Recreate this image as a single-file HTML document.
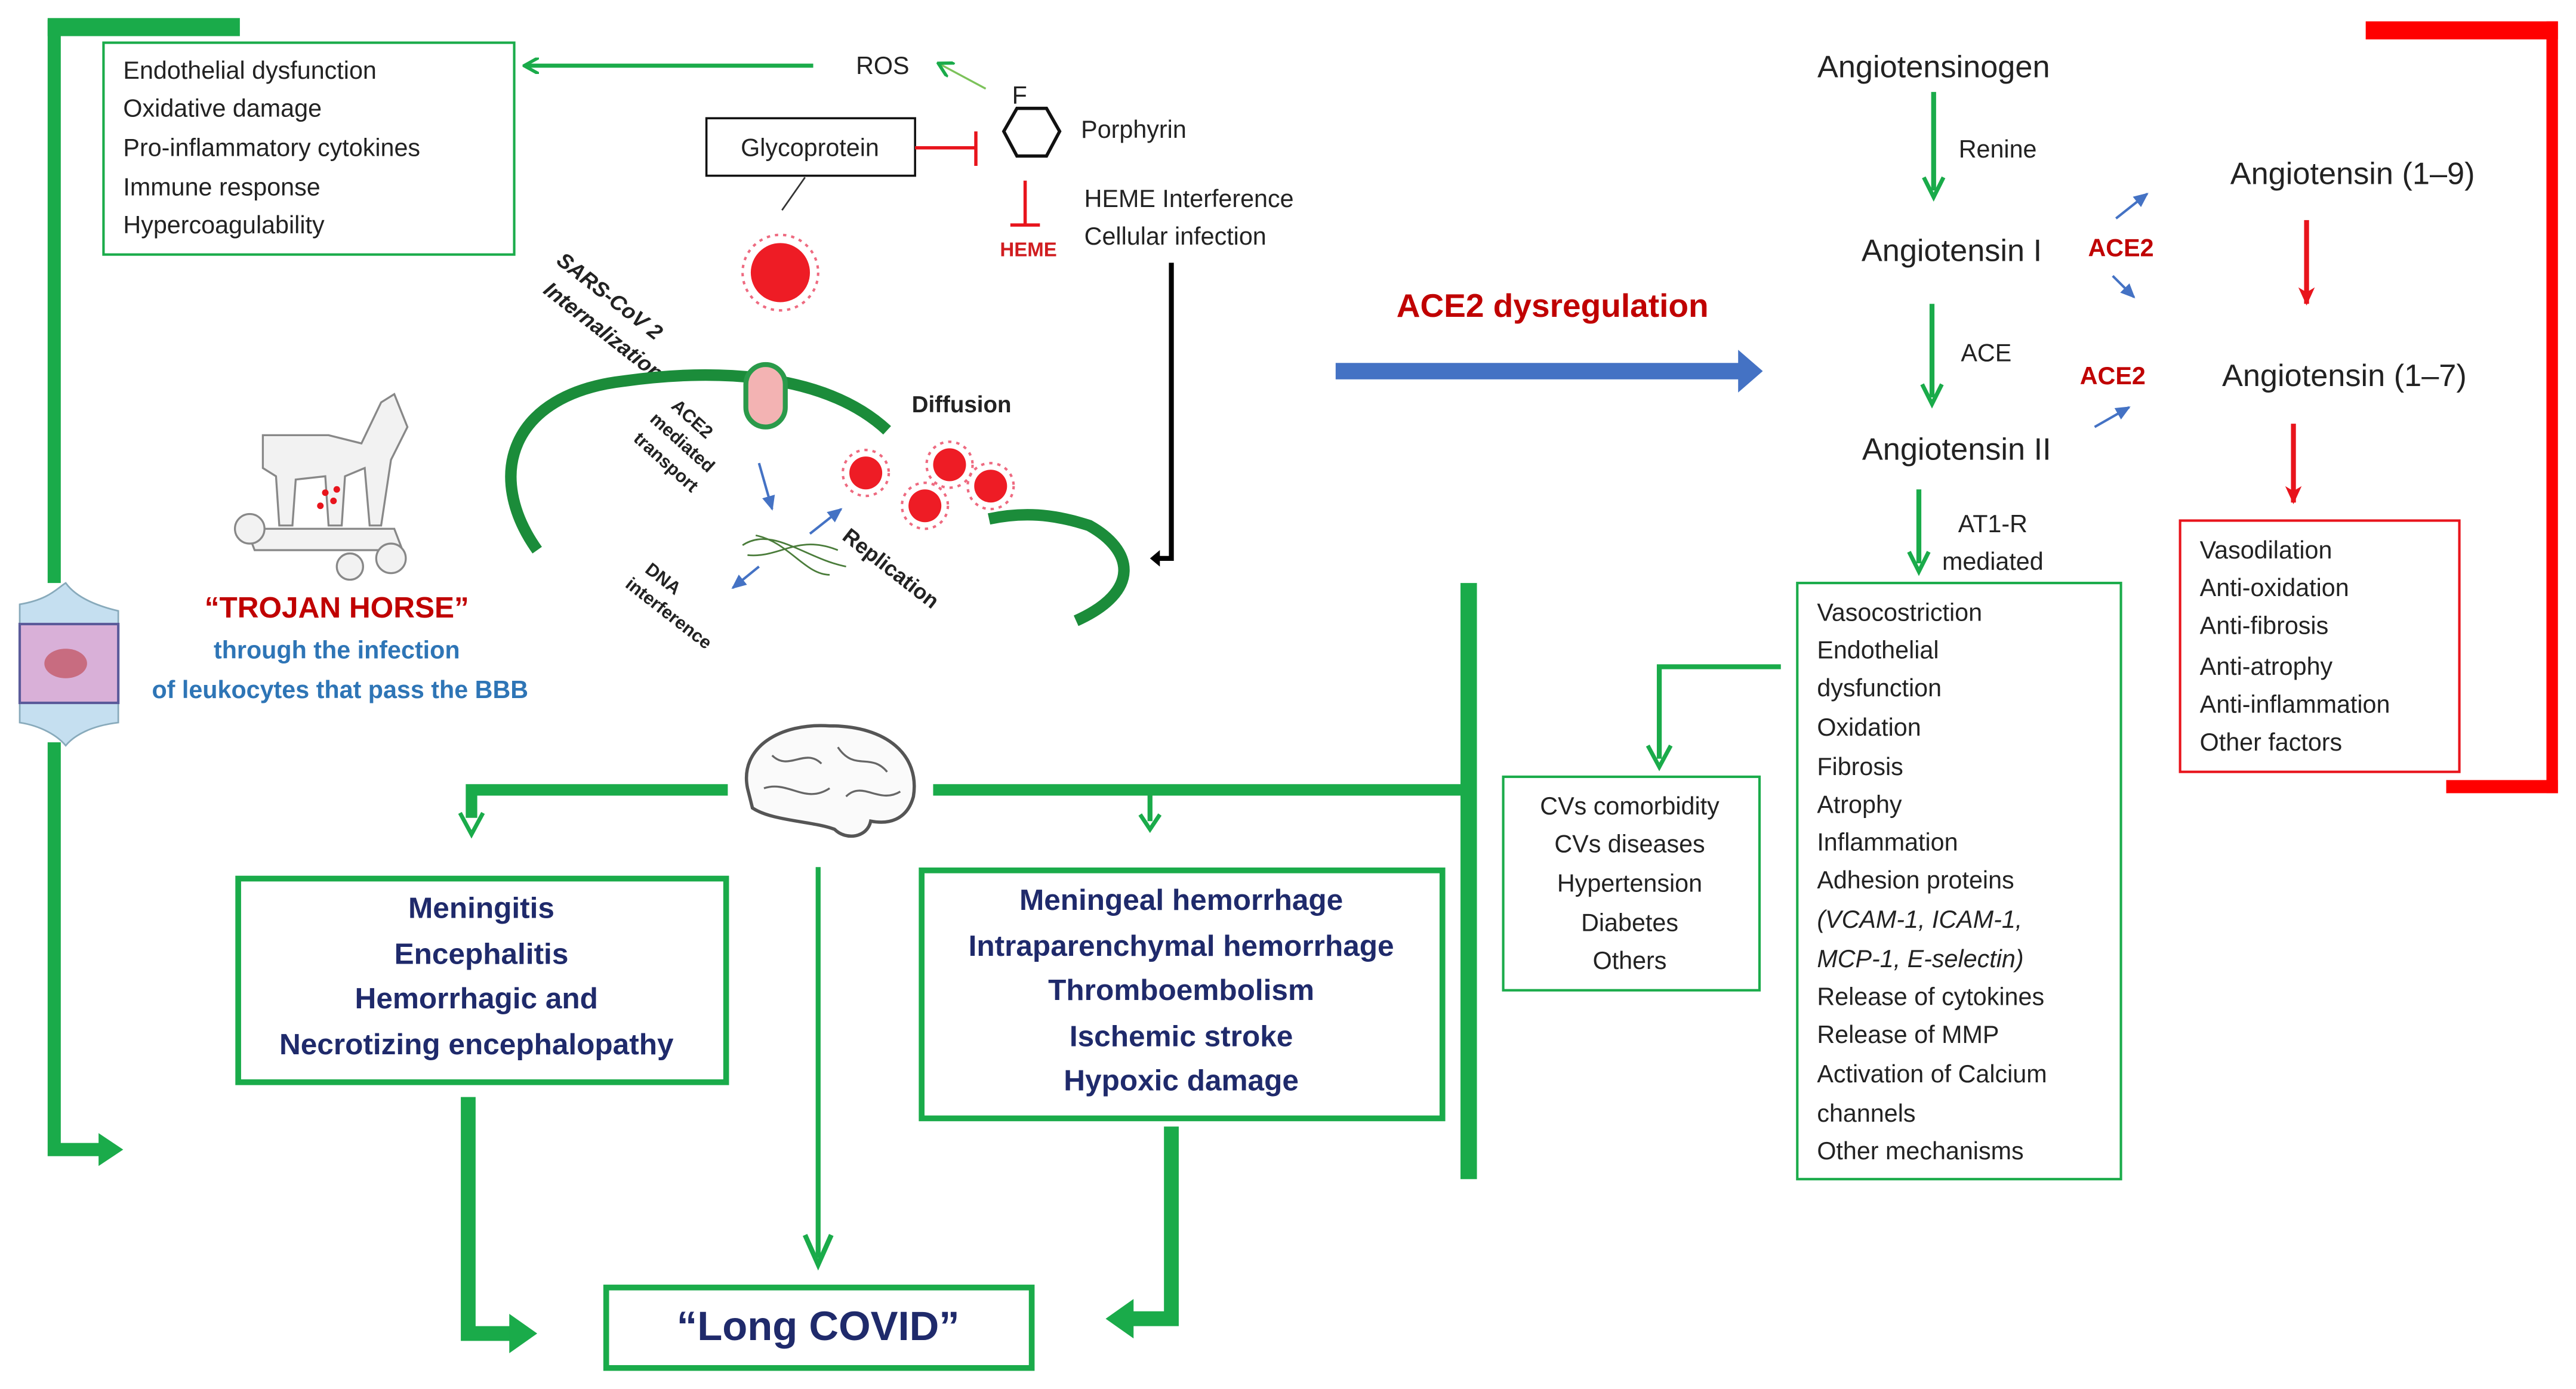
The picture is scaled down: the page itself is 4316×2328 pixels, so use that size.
<!DOCTYPE html>
<html><head><meta charset="utf-8"><style>html,body{margin:0;padding:0;background:#fff}svg{display:block}</style></head>
<body>
<svg xmlns="http://www.w3.org/2000/svg" width="4316" height="2328" viewBox="0 0 1568 845.8" preserveAspectRatio="none" font-family="Liberation Sans, sans-serif">
<defs>
<marker id="ag" markerWidth="10" markerHeight="10" refX="8" refY="5" orient="auto" markerUnits="userSpaceOnUse"><path d="M0,0 L9,5 L0,10" fill="none" stroke="#1aab4a" stroke-width="2"/></marker>
<marker id="agf" markerWidth="12" markerHeight="12" refX="10" refY="6" orient="auto" markerUnits="userSpaceOnUse"><path d="M0,0 L11,6 L0,12 L4,6Z" fill="#1aab4a"/></marker>
<marker id="ab" markerWidth="10" markerHeight="10" refX="8" refY="5" orient="auto" markerUnits="userSpaceOnUse"><path d="M0,1 L9,5 L0,9Z" fill="#4472c4"/></marker>
<marker id="ar" markerWidth="12" markerHeight="12" refX="10" refY="6" orient="auto" markerUnits="userSpaceOnUse"><path d="M0,1 L11,6 L0,11 L3,6Z" fill="#e8141c"/></marker>
</defs>
<rect width="1568" height="846" fill="#fff"/>

<!-- left green bracket -->
<path d="M33,12 V355" stroke="#1aab4a" stroke-width="8" fill="none"/>
<rect x="29" y="11" width="117" height="11" fill="#1aab4a"/>
<path d="M33,452 V700 H62" stroke="#1aab4a" stroke-width="8" fill="none"/>
<path d="M60,690 L75,700 L60,710Z" fill="#1aab4a"/>

<!-- top-left box -->
<rect x="63" y="26" width="250" height="129" fill="none" stroke="#1aab4a" stroke-width="1.5"/>
<g font-size="15" fill="#222">
<text x="75" y="48">Endothelial dysfunction</text>
<text x="75" y="71">Oxidative damage</text>
<text x="75" y="95">Pro-inflammatory  cytokines</text>
<text x="75" y="119">Immune  response</text>
<text x="75" y="142">Hypercoagulability</text>
</g>
<path d="M495,40 H320" stroke="#1aab4a" stroke-width="2.5" marker-end="url(#ag)"/>
<text x="521" y="45" font-size="15" fill="#222">ROS</text>
<path d="M600,54 L572,39" stroke="#7cc25a" stroke-width="1.2" marker-end="url(#ag)"/>
<text x="616" y="63" font-size="15" fill="#222">F</text>
<polygon points="619,66 637,66 645,80 637,95 619,95 611,80" fill="none" stroke="#111" stroke-width="2"/>
<text x="658" y="84" font-size="15" fill="#222">Porphyrin</text>
<rect x="430" y="72" width="127" height="35" fill="#fff" stroke="#111" stroke-width="1.3"/>
<text x="493" y="95" font-size="15" fill="#222" text-anchor="middle">Glycoprotein</text>
<path d="M557,90 H593 M594,80 V101" stroke="#e8141c" stroke-width="2"/>
<path d="M624,110 V136 M615,137 H633" stroke="#e8141c" stroke-width="2"/>
<text x="626" y="156" font-size="12" font-weight="bold" fill="#d01c1f" text-anchor="middle">HEME</text>
<text x="660" y="126" font-size="15" fill="#222">HEME Interference</text>
<text x="660" y="149" font-size="15" fill="#222">Cellular infection</text>
<path d="M713,160 V340 H704" stroke="#000" stroke-width="3" fill="none"/>
<path d="M706,335 L700,340 L706,345Z" fill="#000"/>
<path d="M490,108 L476,128" stroke="#333" stroke-width="1"/>

<!-- viruses -->
<g fill="#ee1c25">
<circle cx="475" cy="166" r="18"/>
<circle cx="527" cy="288" r="10"/><circle cx="578" cy="283" r="10"/><circle cx="603" cy="296" r="10"/><circle cx="563" cy="308" r="10"/>
</g>
<g stroke="#ee6a80" stroke-width="1.5" stroke-dasharray="2 3" fill="none">
<circle cx="475" cy="166" r="23"/>
<circle cx="527" cy="288" r="14"/><circle cx="578" cy="283" r="14"/><circle cx="603" cy="296" r="14"/><circle cx="563" cy="308" r="14"/>
</g>
<text transform="translate(338,160) rotate(38)" font-size="13" font-weight="bold" font-style="italic" fill="#222">SARS-CoV 2</text>
<text transform="translate(330,178) rotate(38)" font-size="13" font-weight="bold" font-style="italic" fill="#222">Internalization</text>

<!-- membrane -->
<path d="M327,335 C295,290 310,240 380,232 C430,225 500,225 540,262" fill="none" stroke="#1b8c3a" stroke-width="7"/>
<path d="M602,316 C630,310 650,316 663,320 C690,335 695,360 655,378" fill="none" stroke="#1b8c3a" stroke-width="7"/>
<rect x="454" y="222" width="24" height="38" rx="12" fill="#f3b3b3" stroke="#2a9a4a" stroke-width="3"/>
<text x="555" y="251" font-size="14" font-weight="bold" fill="#222">Diffusion</text>
<g font-size="11" font-weight="bold" fill="#222">
<text transform="translate(408,248) rotate(42)">ACE2</text>
<text transform="translate(395,256) rotate(42)">mediated</text>
<text transform="translate(385,268) rotate(42)">transport</text>
<text transform="translate(512,328) rotate(38)" font-size="13">Replication</text>
<text transform="translate(392,348) rotate(38)">DNA</text>
<text transform="translate(380,357) rotate(38)">interference</text>
</g>
<path d="M462,282 L470,310" stroke="#4472c4" stroke-width="1.5" marker-end="url(#ab)"/>
<path d="M493,325 L512,310" stroke="#4472c4" stroke-width="1.5" marker-end="url(#ab)"/>
<path d="M462,345 L446,358" stroke="#4472c4" stroke-width="1.5" marker-end="url(#ab)"/>
<path d="M452,332 C470,320 490,340 515,345 M455,338 C475,340 485,325 510,335 M460,326 C480,330 490,350 505,350" stroke="#4a7c3a" stroke-width="1" fill="none"/>

<!-- trojan horse -->
<g stroke="#888" stroke-width="1.2" fill="#f2f2f2">
<path d="M160,265 L200,265 L220,270 L232,245 L240,240 L248,260 L238,280 L232,320 L225,320 L222,285 L210,290 L208,320 L200,320 L198,290 L180,292 L178,320 L170,320 L168,290 L160,285Z"/>
<path d="M150,322 L240,322 L245,335 L155,335Z"/>
<circle cx="152" cy="322" r="9"/><circle cx="238" cy="340" r="9"/><circle cx="213" cy="345" r="8"/>
</g>
<g fill="#e8141c"><circle cx="198" cy="300" r="2"/><circle cx="203" cy="305" r="2"/><circle cx="195" cy="308" r="2"/><circle cx="205" cy="298" r="2"/></g>

<!-- BBB -->
<path d="M12,368 C30,365 35,358 40,355 C45,362 55,368 72,372 L72,440 C55,442 45,448 40,454 C35,448 25,442 12,440Z" fill="#c5dff0" stroke="#8ab" stroke-width="1"/>
<rect x="12" y="380" width="60" height="48" fill="#d9b0d8" stroke="#5a5a9a" stroke-width="1.5"/>
<ellipse cx="40" cy="404" rx="13" ry="9" fill="#c86c80"/>

<text x="205" y="376" font-size="18" font-weight="bold" fill="#c00000" text-anchor="middle">“TROJAN HORSE”</text>
<text x="205" y="401" font-size="15" font-weight="bold" fill="#2e75b6" text-anchor="middle">through the infection</text>
<text x="207" y="425" font-size="15" font-weight="bold" fill="#2e75b6" text-anchor="middle">of leukocytes that pass the BBB</text>

<!-- brain -->
<path d="M455,480 C450,455 475,440 505,442 C540,442 560,460 556,485 C552,500 540,502 530,500 C528,510 515,512 508,505 C495,500 470,500 458,492Z" fill="#fafafa" stroke="#555" stroke-width="2"/>
<path d="M470,460 C480,470 490,455 500,465 M510,455 C520,470 530,458 540,470 M465,480 C480,475 490,490 505,480 M515,485 C525,475 535,490 548,482" stroke="#666" stroke-width="1.2" fill="none"/>

<!-- green flows -->
<path d="M443,481 H287 V498" stroke="#1aab4a" stroke-width="7" fill="none"/>
<path d="M280,495 L287,508 L294,495" fill="none" stroke="#1aab4a" stroke-width="2.5"/>
<path d="M568,481 H893" stroke="#1aab4a" stroke-width="7"/>
<path d="M700,481 V500" stroke="#1aab4a" stroke-width="3"/>
<path d="M694,496 L700,505 L706,496" fill="none" stroke="#1aab4a" stroke-width="2.5"/>
<path d="M894,355 V718" stroke="#1aab4a" stroke-width="10"/>

<rect x="145" y="535" width="297" height="124" fill="none" stroke="#1aab4a" stroke-width="3.5"/>
<g font-size="18" font-weight="bold" fill="#1f2a6b" text-anchor="middle">
<text x="293" y="559">Meningitis</text>
<text x="293" y="587">Encephalitis</text>
<text x="290" y="614">Hemorrhagic and</text>
<text x="290" y="642">Necrotizing encephalopathy</text>
</g>
<rect x="561" y="530" width="317" height="151" fill="none" stroke="#1aab4a" stroke-width="3.5"/>
<g font-size="18" font-weight="bold" fill="#1f2a6b" text-anchor="middle">
<text x="719" y="554">Meningeal hemorrhage</text>
<text x="719" y="582">Intraparenchymal hemorrhage</text>
<text x="719" y="609">Thromboembolism</text>
<text x="719" y="637">Ischemic stroke</text>
<text x="719" y="664">Hypoxic damage</text>
</g>
<path d="M498,528 V766" stroke="#1aab4a" stroke-width="3"/>
<path d="M490,752 L498,770 L506,752" fill="none" stroke="#1aab4a" stroke-width="3"/>
<path d="M285,668 V812 H312" stroke="#1aab4a" stroke-width="9" fill="none"/>
<path d="M310,800 L327,812 L310,824Z" fill="#1aab4a"/>
<path d="M713,686 V803 H688" stroke="#1aab4a" stroke-width="9" fill="none"/>
<path d="M690,791 L673,803 L690,815Z" fill="#1aab4a"/>
<rect x="369" y="784" width="259" height="49" fill="none" stroke="#1aab4a" stroke-width="3.5"/>
<text x="498" y="816" font-size="25" font-weight="bold" fill="#1f2a6b" text-anchor="middle">“Long COVID”</text>

<!-- ACE2 dysregulation -->
<text x="945" y="193" font-size="20" font-weight="bold" fill="#c00000" text-anchor="middle">ACE2 dysregulation</text>
<rect x="813" y="221" width="248" height="10" fill="#4472c4"/>
<path d="M1058,213 L1073,226 L1058,239Z" fill="#4472c4"/>

<!-- RAS -->
<g font-size="19" fill="#222" text-anchor="middle">
<text x="1177" y="47">Angiotensinogen</text>
<text x="1188" y="159">Angiotensin I</text>
<text x="1191" y="280">Angiotensin II</text>
<text x="1432" y="112">Angiotensin (1–9)</text>
<text x="1427" y="235">Angiotensin (1–7)</text>
</g>
<g font-size="15" fill="#222" text-anchor="middle">
<text x="1216" y="96">Renine</text>
<text x="1209" y="220">ACE</text>
<text x="1213" y="324">AT1-R</text>
<text x="1213" y="347">mediated</text>
</g>
<g font-size="15" font-weight="bold" fill="#c00000" text-anchor="middle">
<text x="1291" y="156">ACE2</text>
<text x="1286" y="234">ACE2</text>
</g>
<g stroke="#1aab4a" stroke-width="3" fill="none">
<path d="M1177,56 V116"/><path d="M1176,185 V242"/><path d="M1168,298 V343"/>
</g>
<g stroke="#1aab4a" stroke-width="2.5" fill="none">
<path d="M1171,108 L1177,120 L1183,108"/><path d="M1170,234 L1176,246 L1182,234"/><path d="M1162,336 L1168,348 L1174,336"/>
</g>
<path d="M1288,133 L1307,118" stroke="#4472c4" stroke-width="1.5" marker-end="url(#ab)"/>
<path d="M1286,168 L1299,181" stroke="#4472c4" stroke-width="1.5" marker-end="url(#ab)"/>
<path d="M1275,260 L1296,248" stroke="#4472c4" stroke-width="1.5" marker-end="url(#ab)"/>
<path d="M1404,134 V185" stroke="#e8141c" stroke-width="3" marker-end="url(#ar)"/>
<path d="M1396,258 V306" stroke="#e8141c" stroke-width="3" marker-end="url(#ar)"/>

<rect x="1327" y="317" width="170" height="153" fill="none" stroke="#e8141c" stroke-width="1.5"/>
<g font-size="15" fill="#222">
<text x="1339" y="340">Vasodilation</text>
<text x="1339" y="363">Anti-oxidation</text>
<text x="1339" y="386">Anti-fibrosis</text>
<text x="1339" y="411">Anti-atrophy</text>
<text x="1339" y="434">Anti-inflammation</text>
<text x="1339" y="457">Other factors</text>
</g>
<rect x="1440" y="13" width="117" height="11" fill="#ff0000"/>
<rect x="1550" y="13" width="7" height="470" fill="#ff0000"/>
<rect x="1489" y="475" width="68" height="8" fill="#ff0000"/>

<rect x="1094" y="355" width="197" height="363" fill="none" stroke="#1aab4a" stroke-width="1.5"/>
<g font-size="15" fill="#222">
<text x="1106" y="378">Vasocostriction</text>
<text x="1106" y="401">Endothelial</text>
<text x="1106" y="424">dysfunction</text>
<text x="1106" y="448">Oxidation</text>
<text x="1106" y="472">Fibrosis</text>
<text x="1106" y="495">Atrophy</text>
<text x="1106" y="518">Inflammation</text>
<text x="1106" y="541">Adhesion proteins</text>
<text x="1106" y="565" font-style="italic">(VCAM-1, ICAM-1,</text>
<text x="1106" y="589" font-style="italic">MCP-1, E-selectin)</text>
<text x="1106" y="612">Release of cytokines</text>
<text x="1106" y="635">Release of MMP</text>
<text x="1106" y="659">Activation of Calcium</text>
<text x="1106" y="683">channels</text>
<text x="1106" y="706">Other mechanisms</text>
</g>
<path d="M1084,406 H1010 V462" stroke="#1aab4a" stroke-width="3" fill="none"/>
<path d="M1003,454 L1010,467 L1017,454" fill="none" stroke="#1aab4a" stroke-width="2.5"/>
<rect x="915" y="473" width="156" height="130" fill="none" stroke="#1aab4a" stroke-width="1.5"/>
<g font-size="15" fill="#222" text-anchor="middle">
<text x="992" y="496">CVs comorbidity</text>
<text x="992" y="519">CVs diseases</text>
<text x="992" y="543">Hypertension</text>
<text x="992" y="567">Diabetes</text>
<text x="992" y="590">Others</text>
</g>
</svg>
</body></html>
